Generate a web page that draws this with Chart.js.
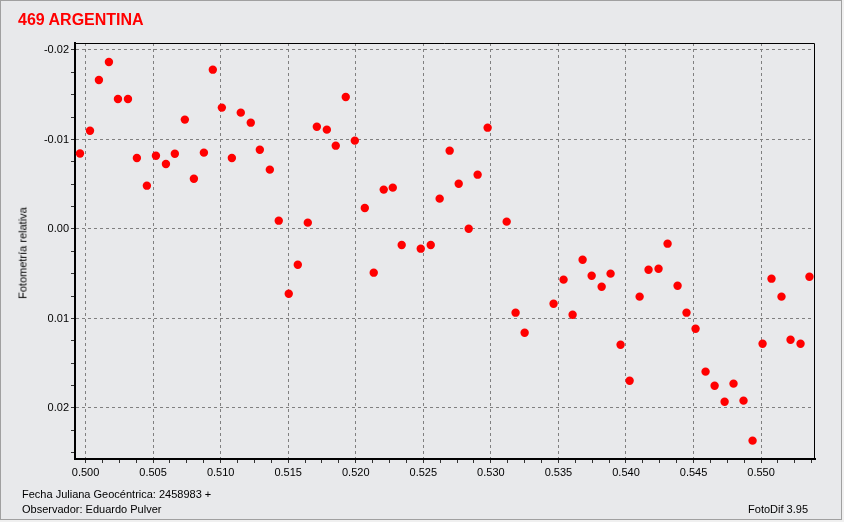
<!DOCTYPE html>
<html>
<head>
<meta charset="utf-8">
<script src="https://cdn.jsdelivr.net/npm/chart.js@4.4.1/dist/chart.umd.min.js"></script>
<style>
    body { margin: 0; background: #f0f0f0; font-family: 'Liberation Sans', Arial, sans-serif; }
    #frame { position: absolute; left: 0; top: 0; width: 840px; height: 518px; border: 1px solid #a0a0a0; background: #e8e9eb; }
    #chart { position: absolute; left: 0; top: 0; }
    .txt { position: absolute; color: #000; font-size: 11px; line-height: 13px; white-space: nowrap; }
    #title { left: 18px; top: 11px; font-size: 16px; line-height: 18px; font-weight: bold; color: #ff0000; }
    #ytitle { left: 23px; top: 253px; transform: translate(-50%, -50%) rotate(-90deg); }
</style>
</head>
<body>
<div id="frame"></div>
<canvas id="chart" width="844" height="522"></canvas>
<div id="title" class="txt">469 ARGENTINA</div>
<div id="ytitle" class="txt">Fotometría relativa</div>
<div class="txt" style="left:22px; top:488px;">Fecha Juliana Geocéntrica: 2458983 +</div>
<div class="txt" style="left:22px; top:503px;">Observador: Eduardo Pulver</div>
<div class="txt" style="right:36px; top:503px;">FotoDif 3.95</div>
<script>
// Julian date offsets (JD - 2458983)
const julianOffsets = [
    0.49959, 0.50033, 0.50099, 0.50173, 0.50240, 0.50314, 0.50380, 0.50454, 0.50521, 0.50595,
    0.50661, 0.50735, 0.50802, 0.50876, 0.50942, 0.51009, 0.51083, 0.51149, 0.51223, 0.51290,
    0.51364, 0.51430, 0.51504, 0.51571, 0.51645, 0.51712, 0.51786, 0.51852, 0.51926, 0.51993,
    0.52067, 0.52133, 0.52207, 0.52274, 0.52340, 0.52481, 0.52555, 0.52621, 0.52695, 0.52762,
    0.52836, 0.52902, 0.52976, 0.53117, 0.53183, 0.53250, 0.53464, 0.53538, 0.53605, 0.53679,
    0.53746, 0.53820, 0.53886, 0.53960, 0.54027, 0.54101, 0.54167, 0.54241, 0.54308, 0.54382,
    0.54448, 0.54515, 0.54589, 0.54656, 0.54730, 0.54796, 0.54870, 0.54937, 0.55011, 0.55077,
    0.55151, 0.55218, 0.55292, 0.55358
];

// relative photometry (magnitudes)
const photometry = [
    -0.00844, -0.01098, -0.01665, -0.01866, -0.01453, -0.01453, -0.00793, -0.00484, -0.00819, -0.00726,
    -0.00841, -0.01222, -0.00562, -0.00853, -0.01780, -0.01356, -0.00793, -0.01300, -0.01188, -0.00886,
    -0.00663, -0.00093, 0.00723, 0.00399, -0.00071, -0.01143, -0.01110, -0.00931, -0.01475, -0.00987,
    -0.00235, 0.00488, -0.00440, -0.00462, 0.00179, 0.00220, 0.00179, -0.00339, -0.00875, -0.00506,
    -0.00003, -0.00607, -0.01132, -0.00082, 0.00935, 0.01159, 0.00835, 0.00566, 0.00958, 0.00343,
    0.00522, 0.00645, 0.00499, 0.01293, 0.01695, 0.00756, 0.00455, 0.00444, 0.00164, 0.00634,
    0.00935, 0.01114, 0.01594, 0.01751, 0.01930, 0.01728, 0.01918, 0.02365, 0.01282, 0.00555,
    0.00756, 0.01237, 0.01282, 0.00533
];

// labelled ticks
const xMajorTicks = [0.500, 0.505, 0.510, 0.515, 0.520, 0.525, 0.530, 0.535, 0.540, 0.545, 0.550];
const yMajorTicks = [-0.02, -0.01, 0.00, 0.01, 0.02];

const X_MIN = 0.49922, X_MAX = 0.55399;
const Y_MIN = -0.02078, Y_MAX = 0.0257;

// 4 minor steps per major step
function buildTicks(majors, min, max) {
    const step = (majors[1] - majors[0]) / 4;
    const out = [];
    for (let i = -4; i <= majors.length * 4 + 4; i++) {
        const v = majors[0] + i * step;
        if (v >= min - 1e-9 && v <= max + 1e-9) out.push({ value: v, major: i % 4 === 0 });
    }
    return out;
}
const xTicks = buildTicks(xMajorTicks, X_MIN, X_MAX);
const yTicks = buildTicks(yMajorTicks, Y_MIN, Y_MAX);

function isMajor(list, tick) {
    if (!tick) return false;
    const t = list.find(o => Math.abs(o.value - tick.value) < 1e-9);
    return t ? t.major : false;
}

// thin top / right frame
const frameBox = {
    id: 'frameBox',
    afterDraw(chart) {
        const { ctx, chartArea: a } = chart;
        ctx.save();
        ctx.strokeStyle = '#000';
        ctx.lineWidth = 1;
        ctx.beginPath();
        ctx.moveTo(a.left, a.top + 0.5);
        ctx.lineTo(a.right - 0.5, a.top + 0.5);
        ctx.lineTo(a.right - 0.5, a.bottom);
        ctx.stroke();
        ctx.restore();
    }
};

function axisOptions(list, decimals) {
    return {
        type: 'linear',
        afterBuildTicks: scale => { scale.ticks = list.map(t => ({ value: t.value })); },
        grid: {
            color: c => isMajor(list, c.tick) ? '#808080' : 'rgba(0,0,0,0)',
            lineWidth: 1,
            tickColor: '#333',
            tickLength: 4,
            tickBorderDash: []
        },
        border: { display: true, color: '#000', width: 2, dash: [3, 3] },
        ticks: {
            autoSkip: false,
            maxRotation: 0,
            color: '#000',
            font: { family: 'Liberation Sans', size: 11 },
            callback: v => {
                if (!isMajor(list, { value: v })) return '';
                if (Math.abs(v) < 1e-9) return (0).toFixed(decimals);
                return v.toFixed(decimals);
            }
        }
    };
}

const xAxis = axisOptions(xTicks, 3);
xAxis.min = X_MIN;
xAxis.max = X_MAX;
xAxis.ticks.padding = 3;
xAxis.afterFit = s => { s.height = 63; };

const yAxis = axisOptions(yTicks, 2);
yAxis.min = Y_MIN;
yAxis.max = Y_MAX;
yAxis.reverse = true;
yAxis.ticks.padding = 2;
yAxis.afterFit = s => { s.width = 75; };

new Chart(document.getElementById('chart').getContext('2d'), {
    type: 'scatter',
    data: {
        datasets: [{
            data: julianOffsets.map((x, i) => ({ x, y: photometry[i] })),
            backgroundColor: '#ff0000',
            borderWidth: 0,
            pointRadius: 4.2
        }]
    },
    options: {
        responsive: false,
        animation: false,
        layout: { padding: { top: 43, right: 29, left: 0, bottom: 0 } },
        plugins: {
            legend: { display: false },
            tooltip: { enabled: false }
        },
        scales: { x: xAxis, y: yAxis }
    },
    plugins: [frameBox]
});
</script>
</body>
</html>
